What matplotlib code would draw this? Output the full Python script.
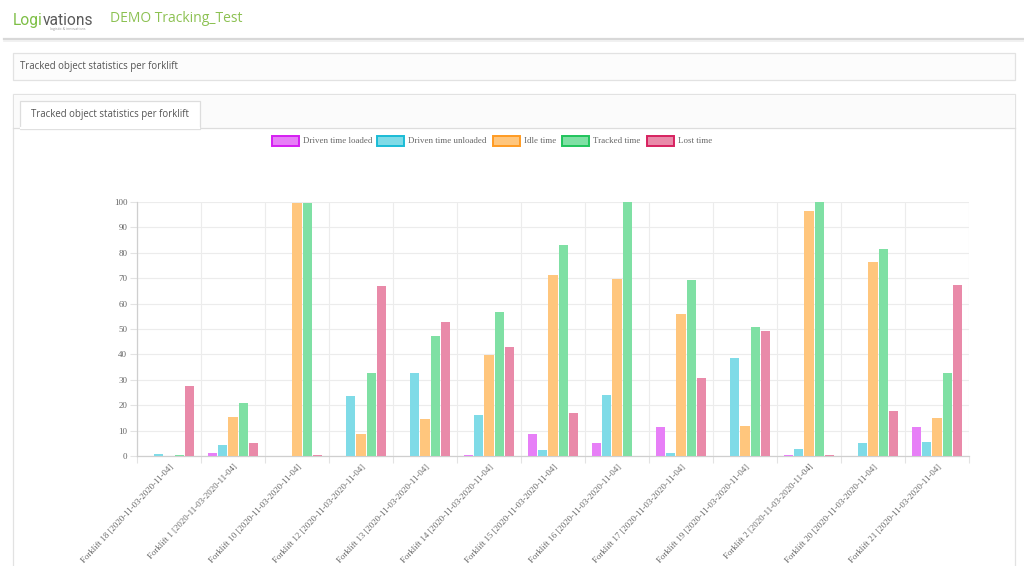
import numpy as np
import matplotlib
matplotlib.use('Agg')
import matplotlib.pyplot as plt
from matplotlib.patches import Rectangle
from matplotlib.lines import Line2D

# 数据（从截图读取的近似值, 单位 %）
forklifts = ['Forklift 18', 'Forklift 1', 'Forklift 10', 'Forklift 12', 'Forklift 13',
             'Forklift 14', 'Forklift 15', 'Forklift 16', 'Forklift 17', 'Forklift 19',
             'Forklift 2', 'Forklift 20', 'Forklift 21']
date_range = '[2020-11-03-2020-11-04]'

driven_loaded = [0, 1.2, 0, 0, 0, 0.5, 8.6, 5.0, 11.6, 0, 0.3, 0, 11.3]
driven_unloaded = [0.6, 4.2, 0, 23.8, 32.5, 16.0, 2.2, 24.1, 1.2, 38.6, 2.8, 5.0, 5.5]
idle_time = [0, 15.4, 99.6, 8.8, 14.5, 39.7, 71.2, 69.7, 55.9, 11.8, 96.4, 76.3, 15.1]
tracked_time = [0.5, 21.0, 99.6, 32.8, 47.2, 56.7, 82.9, 100, 69.2, 50.8, 99.9, 81.6, 32.5]
lost_time = [27.4, 5.3, 0.5, 66.8, 52.6, 42.8, 17.0, 0, 30.7, 49.1, 0.3, 17.8, 67.4]

series_names = ['Driven time loaded', 'Driven time unloaded', 'Idle time', 'Tracked time', 'Lost time']
fill_colors = ['#e77ff7', '#7fdbe7', '#ffc67d', '#7fe0a4', '#e98aa9']
border_colors = ['#d51ef2', '#1abcd6', '#ff9b22', '#20c45c', '#d7215f']

W, H = 1024, 566
fig = plt.figure(figsize=(W / 100, H / 100), dpi=100)
fig.patch.set_facecolor('white')


def fx(x):
    return x / W


def fy(y):
    return 1 - y / H


def box(x0, y0, x1, y1, **kw):
    fig.patches.append(Rectangle((fx(x0), fy(y1)), fx(x1 - x0), (y1 - y0) / H,
                                 transform=fig.transFigure, **kw))


def hline(x0, x1, y, **kw):
    fig.lines.append(Line2D([fx(x0), fx(x1)], [fy(y), fy(y)], transform=fig.transFigure, **kw))


# 页面头部
t1 = fig.text(fx(13), fy(25), 'Logi', color='#7dbf45', fontsize=11.2,
              family='Roboto', va='baseline')
fig.canvas.draw()
bb = t1.get_window_extent()
fig.text(bb.x1 / W, fy(25), 'vations', color='#5a5a5a', fontsize=11.2,
         family='Roboto', va='baseline')
fig.text(fx(68), fy(29), 'logistic & innovations', color='#999999', fontsize=2.6,
         family='Open Sans', ha='center', va='center')
fig.text(fx(110), fy(19), 'DEMO Tracking_Test', color='#8cc152', fontsize=10,
         family='Open Sans', va='center')
hline(4, W, 39, color='#d8d8d8', lw=1.6)
hline(4, W, 40.5, color='#efefef', lw=1.2)

# 面板
box(13, 53, 1015, 80, facecolor='#fcfcfc', edgecolor='#e2e2e2', lw=0.9)
fig.text(fx(20), fy(67), 'Tracked object statistics per forklift', color='#555555',
         fontsize=6.9, family='Open Sans', va='center')
box(13, 94, 1015, 600, facecolor='white', edgecolor='#e2e2e2', lw=0.9)
box(13.5, 94.5, 1014.5, 128, facecolor='#fbfbfb', edgecolor='none')
hline(13, 1015, 128, color='#dddddd', lw=0.9)
box(20, 101, 200, 128.6, facecolor='white', edgecolor='#dddddd', lw=0.9)
hline(20.6, 199.4, 128.3, color='white', lw=1.6)
fig.text(fx(31), fy(114.5), 'Tracked object statistics per forklift', color='#555555',
         fontsize=6.9, family='Open Sans', va='center')

# 图例
legend_boxes = [272, 377, 493, 562, 647]
for i, name in enumerate(series_names):
    x0 = legend_boxes[i]
    box(x0, 136, x0 + 27, 145.5, facecolor=fill_colors[i], edgecolor=border_colors[i], lw=1.4)
    fig.text(fx(x0 + 31), fy(141), name, color='#666666', fontsize=6.4,
             family='Liberation Serif', va='center')

# 柱状图
ax = fig.add_axes([fx(137), fy(456), fx(969 - 137), (456 - 202) / H])
ax.set_zorder(5)
ax.set_facecolor('none')
x = np.arange(len(forklifts))
all_series = [driven_loaded, driven_unloaded, idle_time, tracked_time, lost_time]
slot = 0.8 / 5
for j, vals in enumerate(all_series):
    ax.bar(x + (j - 2) * slot, vals, width=slot * 0.9, color=fill_colors[j], zorder=3)

ax.set_xlim(-0.5, len(forklifts) - 0.5)
ax.set_ylim(0, 100)
ax.set_yticks(np.arange(0, 101, 10))
ax.set_yticklabels([str(v) for v in range(0, 101, 10)], family='Liberation Serif',
                   fontsize=6.5, color='#666666')
ax.set_xticks(x)
ax.set_xticklabels([f'{f} {date_range}' for f in forklifts], rotation=47,
                   ha='right', va='top', rotation_mode='anchor',
                   family='Liberation Serif', fontsize=6.3, color='#666666')
ax.set_xticks(np.arange(-0.5, len(forklifts) + 0.5, 1), minor=True)
ax.tick_params(axis='x', which='major', length=0, pad=5)
ax.tick_params(axis='x', which='minor', length=5, color='#e3e3e3', width=0.8)
ax.tick_params(axis='y', length=5, color='#e3e3e3', width=0.8, pad=2)
ax.grid(axis='y', color='#ececec', lw=0.8, zorder=0)
ax.grid(axis='x', which='minor', color='#ececec', lw=0.8, zorder=0)
for s in ['top', 'right']:
    ax.spines[s].set_visible(False)
for s in ['left', 'bottom']:
    ax.spines[s].set_color('#cfcfcf')
    ax.spines[s].set_linewidth(0.9)

fig.savefig('out.png', dpi=100)
